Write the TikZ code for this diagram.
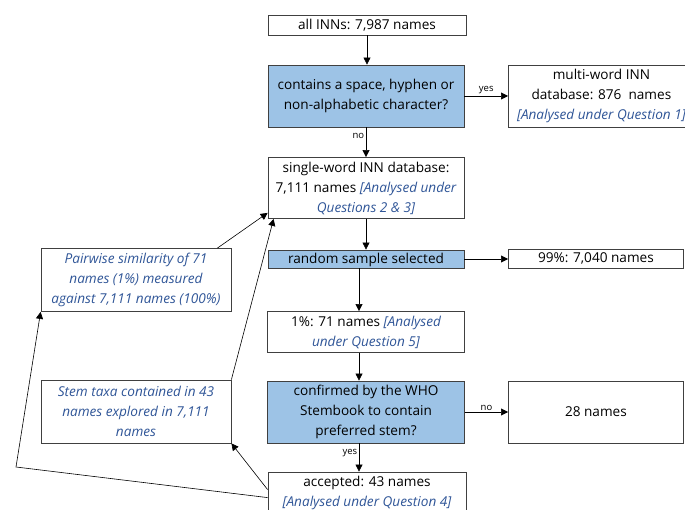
\documentclass[tikz,border=0pt]{standalone}
\usepackage{fontspec}
\setmainfont{Open Sans}
\usetikzlibrary{arrows.meta,calc}
\definecolor{qblue}{HTML}{9DC3E6}
\definecolor{notec}{HTML}{2F5597}
\definecolor{edgec}{HTML}{404040}
\newcommand{\nt}[1]{{\itshape\color{notec}#1}}
\tikzset{
  box/.style={draw=edgec,line width=0.8pt,rectangle,align=center,inner sep=1pt,
    font=\fontsize{13.6}{20}\selectfont,text=black},
  qbox/.style={box,fill=qblue},
  notebox/.style={box,font=\fontsize{13.6}{20}\selectfont\itshape,text=notec},
  conn/.style={draw=black,line width=0.6pt,-{Triangle[length=7pt,width=7pt]}},
  lab/.style={font=\fontsize{9.5}{11}\selectfont,text=black,inner sep=1.5pt}
}
\begin{document}
\begin{tikzpicture}[x=1pt,y=-1pt]
\useasboundingbox (0,0) rectangle (685,510);
\node[box,minimum width=198,minimum height=20] (all) at (367,25) {all INNs: 7,987 names};
\node[qbox,minimum width=196,minimum height=62] (q1) at (366,96) {contains a space, hyphen or\\non-alphabetic character?};
\node[box,minimum width=186,minimum height=62,anchor=west] (multi) at (508,96) {multi-word INN\\database: 876\ \ names\\\nt{[Analysed under Question 1]}};
\node[box,minimum width=196,minimum height=61] (single) at (366,188) {single-word INN database:\\7,111 names \nt{[Analysed under}\\\nt{Questions 2 \& 3]}};
\node[qbox,minimum width=196,minimum height=18,inner sep=0pt,text depth=2pt] (random) at (366,259) {random sample selected};
\node[box,minimum width=175,minimum height=19,anchor=west,inner sep=0pt,text depth=2pt] (p99) at (508,259) {99\%: 7,040 names};
\node[box,minimum width=197,minimum height=41] (one) at (366,332) {1\%: 71 names \nt{[Analysed}\\\nt{under Question 5]}};
\node[qbox,minimum width=197,minimum height=62] (q2) at (366,412) {confirmed by the WHO\\Stembook to contain\\preferred stem?};
\node[box,minimum width=175,minimum height=62,anchor=west] (n28) at (508,412) {28 names};
\node[box,minimum width=198,minimum height=41] (acc) at (367,492.5) {accepted: 43 names\\\nt{[Analysed under Question 4]}};
\node[notebox,minimum width=190,minimum height=63] (pair) at (136,280) {Pairwise similarity of 71\\names (1\%) measured\\against 7,111 names (100\%)};
\node[notebox,minimum width=190,minimum height=63] (stem) at (136,411.5) {Stem taxa contained in 43\\names explored in 7,111\\names};
\draw[conn] (all) -- (all |- q1.north);
\draw[conn] (q1.east) -- node[lab,above] {yes} (multi.west);
\draw[conn] (q1.south) -- node[lab,left,pos=0.3] {no} (q1.south |- single.north);
\draw[conn] (single.south) -- (single.south |- random.north);
\draw[conn] (random.east) -- (p99.west);
\coordinate (rs) at ($(random.south)+(-7,0)$);
\coordinate (on) at ($(one.north)+(-7,0)$);
\coordinate (os) at ($(one.south)+(-7,0)$);
\coordinate (q2n) at ($(q2.north)+(-7,0)$);
\coordinate (q2s) at ($(q2.south)+(-7,0)$);
\coordinate (accn) at (q2s |- acc.north);
\draw[conn] (rs) -- (on);
\draw[conn] (os) -- (q2n);
\draw[conn] (q2.east) -- node[lab,above] {no} (n28.west);
\draw[conn] (q2s) -- node[lab,left,pos=0.35] {yes} (accn);
\coordinate (pairtop) at ($(pair.north east)+(-14,0)$);
\coordinate (singlel) at ($(single.south west)+(0,-6)$);
\draw[conn] (pairtop) -- (singlel);
\coordinate (singleb) at ($(single.south west)+(6,0)$);
\draw[conn] (stem.north east) -- (singleb);
\coordinate (acc1) at ($(acc.north west)+(0,18)$);
\coordinate (acc2) at ($(acc.north west)+(0,26)$);
\coordinate (bend) at (16,467);
\draw[conn] (acc1) -- (stem.south east);
\draw[conn] (acc2) -- (bend) -- (pair.south west);
\end{tikzpicture}
\end{document}
